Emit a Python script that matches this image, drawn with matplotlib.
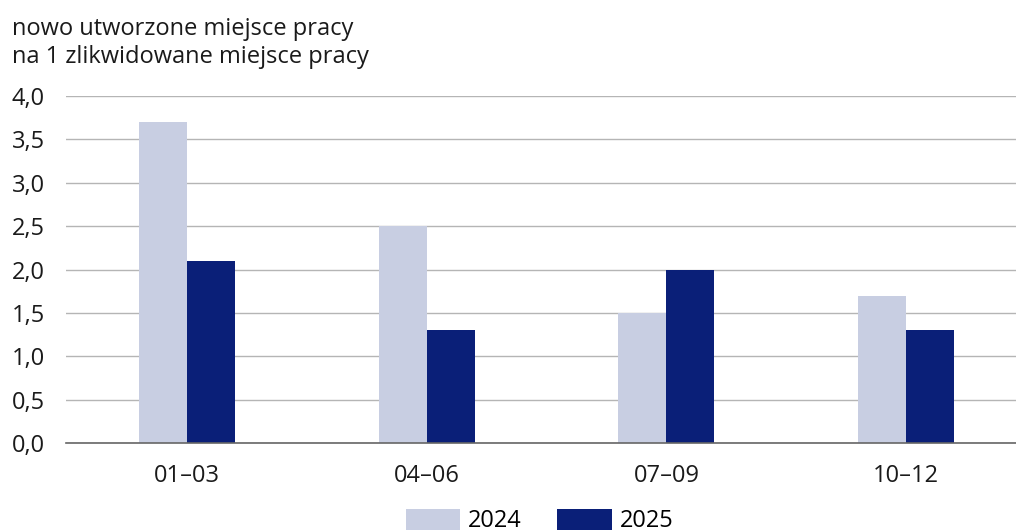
import matplotlib
matplotlib.use("Agg")
import matplotlib.pyplot as plt
import numpy as np
from matplotlib.patches import Patch

categories = ["01–03", "04–06", "07–09", "10–12"]
series_names = ["2024", "2025"]
values_2024 = [3.7, 2.5, 1.5, 1.7]
values_2025 = [2.1, 1.3, 2.0, 1.3]
yticks = [0.0, 0.5, 1.0, 1.5, 2.0, 2.5, 3.0, 3.5, 4.0]
ytick_labels = ["0,0", "0,5", "1,0", "1,5", "2,0", "2,5", "3,0", "3,5", "4,0"]
title_lines = ["nowo utworzone miejsce pracy", "na 1 zlikwidowane miejsce pracy"]

c_light = "#c8cee2"
c_dark = "#0a1f78"

plt.rcParams['font.family'] = ['Open Sans', 'DejaVu Sans']

fig = plt.figure(figsize=(10.16, 5.32), dpi=100)
W, H = 1016, 532
ax = fig.add_axes([66 / W, 1 - 443 / H, 1 - 66 / W, (443 - 96) / H])

x = np.arange(len(categories))
bw = 0.2
ax.bar(x - bw / 2, values_2024, width=bw, color=c_light, zorder=3)
ax.bar(x + bw / 2, values_2025, width=bw, color=c_dark, zorder=3)

ax.set_xlim(-0.504, 3.458)
ax.set_ylim(0, 4.0)
ax.set_yticks(yticks)
ax.set_yticklabels(ytick_labels)
ax.set_xticks(x)
ax.set_xticklabels(categories)
ax.tick_params(axis='both', length=0, labelsize=17, colors="#1a1a1a")
ax.tick_params(axis='x', pad=15)
ax.tick_params(axis='y', pad=39)
for lbl in ax.get_yticklabels():
    lbl.set_horizontalalignment('left')

ax.grid(axis='y', color="#b5b5b5", linewidth=1.0, zorder=0)
ax.set_axisbelow(True)
for s in ["top", "right", "left"]:
    ax.spines[s].set_visible(False)
ax.spines["bottom"].set_color("#666666")
ax.spines["bottom"].set_linewidth(1.2)
ax.spines["bottom"].set_zorder(4)

for i, line in enumerate(title_lines):
    fig.text(12 / W, 1 - (35 + 28 * i) / H, line, ha='left', va='baseline',
             fontsize=17, color="#1a1a1a")

handles = [Patch(facecolor=c_light), Patch(facecolor=c_dark)]
fig.legend(handles, series_names, loc='center', bbox_to_anchor=(0.531, 1 - 521 / H),
           ncol=2, frameon=False, fontsize=17, handlelength=2.3, handleheight=1.0,
           columnspacing=1.5, handletextpad=0.34, borderaxespad=0, borderpad=0)

fig.savefig("out.png", dpi=100, facecolor="white")
